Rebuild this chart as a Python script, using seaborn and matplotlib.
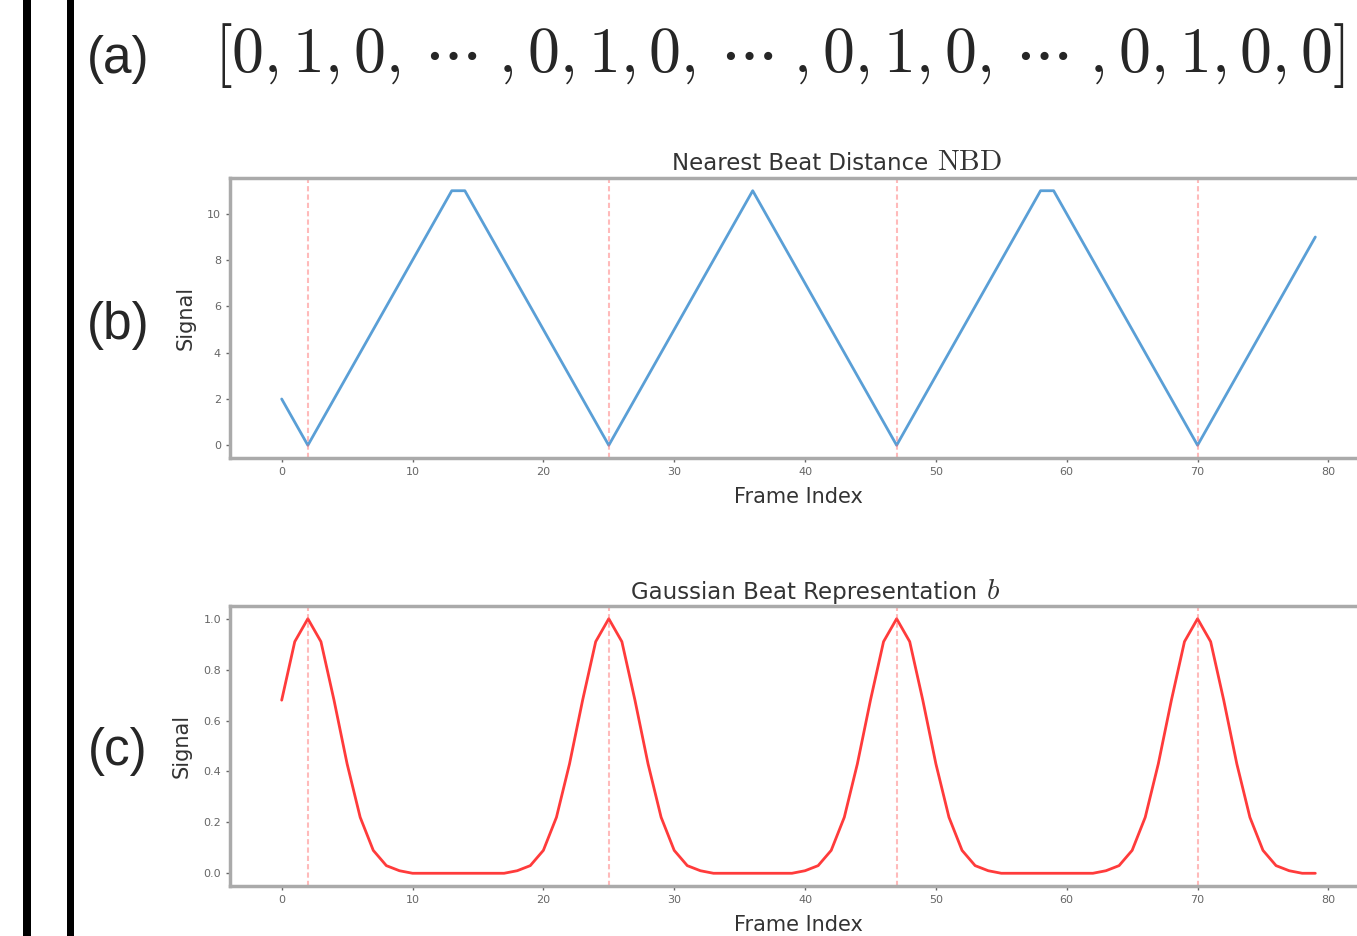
import matplotlib
matplotlib.use('Agg')
import matplotlib.pyplot as plt
from matplotlib.patches import Rectangle
import seaborn as sns
import numpy as np

# frame indices and beat positions
frames = list(range(80))
beats = [2, 25, 47, 70]

# nearest beat distance per frame
nbd = [2, 1, 0, 1, 2, 3, 4, 5, 6, 7,
       8, 9, 10, 11, 11, 10, 9, 8, 7, 6,
       5, 4, 3, 2, 1, 0, 1, 2, 3, 4,
       5, 6, 7, 8, 9, 10, 11, 10, 9, 8,
       7, 6, 5, 4, 3, 2, 1, 0, 1, 2,
       3, 4, 5, 6, 7, 8, 9, 10, 11, 11,
       10, 9, 8, 7, 6, 5, 4, 3, 2, 1,
       0, 1, 2, 3, 4, 5, 6, 7, 8, 9]

# gaussian beat representation per frame
gauss = [0.68, 0.91, 1.0, 0.91, 0.68, 0.43, 0.22, 0.09, 0.03, 0.01,
         0.0, 0.0, 0.0, 0.0, 0.0, 0.0, 0.0, 0.0, 0.01, 0.03,
         0.09, 0.22, 0.43, 0.68, 0.91, 1.0, 0.91, 0.68, 0.43, 0.22,
         0.09, 0.03, 0.01, 0.0, 0.0, 0.0, 0.0, 0.0, 0.0, 0.0,
         0.01, 0.03, 0.09, 0.22, 0.43, 0.68, 0.91, 1.0, 0.91, 0.68,
         0.43, 0.22, 0.09, 0.03, 0.01, 0.0, 0.0, 0.0, 0.0, 0.0,
         0.0, 0.0, 0.0, 0.01, 0.03, 0.09, 0.22, 0.43, 0.68, 0.91,
         1.0, 0.91, 0.68, 0.43, 0.22, 0.09, 0.03, 0.01, 0.0, 0.0]

sns.set_style('white')
plt.rcParams['font.family'] = ['DejaVu Sans']
plt.rcParams['mathtext.fontset'] = 'cm'

W, H = 1357, 936
fig = plt.figure(figsize=(W / 100, H / 100), dpi=100)

# black bars on the left
for x0, w in [(23, 8), (67, 7)]:
    fig.add_artist(Rectangle((x0 / W, 0), w / W, 1, transform=fig.transFigure,
                             color='black', lw=0))

# panel labels
for lab, yy in [('(a)', 60), ('(b)', 325), ('(c)', 752)]:
    fig.text(118 / W, 1 - yy / H, lab, ha='center', va='center', fontsize=37,
             family=['Liberation Sans', 'DejaVu Sans'])

dots = r'\,\cdots\;'
seq = r'$[0, 1, 0, ' + dots + ', 0, 1, 0, ' + dots + ', 0, 1, 0, ' + dots + r', 0, 1, 0, 0]$'
fig.text(779 / W, 1 - 55 / H, seq, ha='center', va='center', fontsize=46)

ax1 = fig.add_axes([230 / W, 1 - 458 / H, 1137 / W, 280 / H])
ax2 = fig.add_axes([230 / W, 1 - 886 / H, 1137 / W, 280 / H])

sns.lineplot(x=frames, y=nbd, ax=ax1, color='#5a9fd6', lw=2.0)
sns.lineplot(x=frames, y=gauss, ax=ax2, color='#ff3b3b', lw=2.0)

# titles: plain part and math part, the math drawn larger
titles = [('Nearest Beat Distance', r'$\mathrm{NBD}$', 928, 170),
          ('Gaussian Beat Representation', r'$b$', 977, 599)]
for (plain, math, xr, yb) in titles:
    fig.text(xr / W, 1 - yb / H, plain, ha='right', va='baseline',
             fontsize=16.5, color='#333333')
    fig.text((xr + 9) / W, 1 - yb / H, math, ha='left', va='baseline',
             fontsize=21, color='#333333')

for ax in [ax1, ax2]:
    for b in beats:
        ax.axvline(b, color='#ff6666', ls=(0, (2.5, 1.5)), lw=1.5, alpha=0.45)
    ax.set_xlabel('Frame Index', fontsize=15, color='#333333', labelpad=7)
    ax.set_ylabel('Signal', fontsize=15, color='#333333', labelpad=8)
    ax.set_xticks([0, 10, 20, 30, 40, 50, 60, 70, 80])
    ax.tick_params(axis='both', labelsize=8, colors='#666666', length=3,
                   width=1, bottom=True, left=True)
    for s in ax.spines.values():
        s.set_color('#aaaaaa')
        s.set_linewidth(2.5)

ax1.set_yticks([0, 2, 4, 6, 8, 10])
ax2.set_yticks([0.0, 0.2, 0.4, 0.6, 0.8, 1.0])

fig.savefig('out.png', dpi=100)
